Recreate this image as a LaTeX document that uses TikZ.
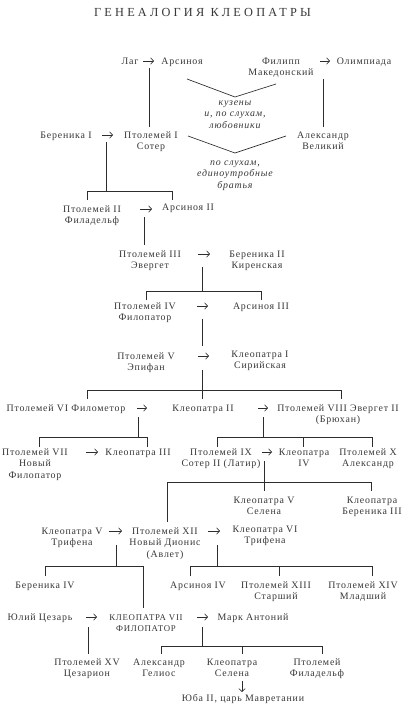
\documentclass[tikz,border=0pt]{standalone}
\usepackage{fontspec}
\setmainfont{Liberation Serif}[LetterSpace=8]
\usetikzlibrary{arrows.meta}
\definecolor{ink}{RGB}{55,55,55}
\definecolor{lnk}{RGB}{45,45,45}
\newcommand\nfs{\fontsize{9.9}{11.8}\selectfont}
\newcommand\nd[5][nm]{\node[#1] (#2) at (#3,#4-4) {\rule{0pt}{7pt}#5};}
\newcommand\myarr[4]{\coordinate (#1a) at (#2,#4); \coordinate (#1b) at (#3,#4); \draw[ar] (#1a) -- (#1b);}
\newcommand\drop[4]{\coordinate (#1a) at (#2,#3); \coordinate (#1b) at (#2,#4); \draw[ln] (#1a) -- (#1b);}
\newcommand\sibs[5]{\coordinate (#1l) at (#2,#5); \coordinate (#1r) at (#3,#5);
  \coordinate (#1p) at (#2,#4); \coordinate (#1q) at (#3,#4);
  \draw[ln] (#1l) -- (#1p) -- (#1q) -- (#1r);}
\begin{document}
\begin{tikzpicture}[x=1pt,y=-1pt,
  nm/.style={align=center,inner sep=0pt,outer sep=0pt,anchor=north,font=\nfs,text=ink},
  nt/.style={nm,font=\nfs\itshape},
  ns/.style={nm,font=\fontsize{8.8}{11.8}\selectfont},
  ln/.style={draw=lnk,line width=0.65pt},
  ar/.style={ln,-{Straight Barb[length=3pt,width=6.5pt]}}]
\fill[white] (0,0) rectangle (409,712);
\useasboundingbox (0,0) rectangle (409,712);
\node[text=ink,inner sep=0pt,font=\fontsize{12.3}{14}\selectfont\addfontfeature{LetterSpace=26}] (title) at (202.5,12.5) {ГЕНЕАЛОГИЯ КЛЕОПАТРЫ};
% people
\nd{lag}{130}{61}{Лаг}
\nd{ars}{182}{61}{Арсиноя}
\nd{fil}{281}{61}{Филипп\\Македонский}
\nd{olim}{364}{61}{Олимпиада}
\nd[nt]{n1}{235}{102}{кузены\\и, по слухам,\\любовники}
\nd{ber1}{66}{135}{Береника I}
\nd{ptolI}{151}{135}{Птолемей I\\Сотер}
\nd{alex}{323}{135}{Александр\\Великий}
\nd[nt]{n2}{235}{162}{по слухам,\\единоутробные\\братья}
\nd{ptolII}{92}{209}{Птолемей II\\Филадельф}
\nd{arsII}{188}{207}{Арсиноя II}
\nd{ptolIII}{150}{254}{Птолемей III\\Эвергет}
\nd{berII}{257}{254}{Береника II\\Киренская}
\nd{ptolIV}{145}{306}{Птолемей IV\\Филопатор}
\nd{arsIII}{261}{306}{Арсиноя III}
\nd{ptolV}{146}{356}{Птолемей V\\Эпифан}
\nd{kleoI}{260}{354}{Клеопатра I\\Сирийская}
\nd{ptolVI}{66}{408}{Птолемей VI Филометор}
\nd{kleoII}{203}{408}{Клеопатра II}
\nd{ptolVIII}{338}{408}{Птолемей VIII Эвергет II\\(Брюхан)}
\nd{ptolVII}{35}{452}{Птолемей VII\\Новый\\Филопатор}
\nd{kleoIII}{138}{452}{Клеопатра III}
\nd{ptolIX}{221}{452}{Птолемей IX\\Сотер II (Латир)}
\nd{kleoIV}{304}{452}{Клеопатра\\IV}
\nd{ptolX}{368}{452}{Птолемей X\\Александр}
\nd{kleoVs}{264}{500}{Клеопатра V\\Селена}
\nd{kbIII}{372}{500}{Клеопатра\\Береника III}
\nd{kleoVt}{72}{531}{Клеопатра V\\Трифена}
\nd{ptolXII}{165}{531}{Птолемей XII\\Новый Дионис\\(Авлет)}
\nd{kleoVI}{265}{529}{Клеопатра VI\\Трифена}
\nd{berIV}{45}{585}{Береника IV}
\nd{arsIV}{198}{585}{Арсиноя IV}
\nd{ptolXIII}{276}{585}{Птолемей XIII\\Старший}
\nd{ptolXIV}{363}{585}{Птолемей XIV\\Младший}
\nd{caesar}{40}{617}{Юлий Цезарь}
\nd[ns]{kleoVII}{146}{617}{КЛЕОПАТРА VII\\ФИЛОПАТОР}
\nd{mark}{253}{617}{Марк Антоний}
\nd{ptolXV}{87}{662}{Птолемей XV\\Цезарион}
\nd{alexH}{159}{662}{Александр\\Гелиос}
\nd{kleoS}{232}{662}{Клеопатра\\Селена}
\nd{ptolF}{317}{662}{Птолемей\\Филадельф}
\nd{juba}{243}{698}{Юба II, царь Мавретании}
% marriage arrows
\myarr{a1}{143}{154}{61}
\myarr{a2}{320}{330}{61}
\myarr{a3}{102}{113}{135}
\myarr{a4}{140}{152}{209}
\myarr{a5}{198}{210}{254}
\myarr{a6}{197}{208}{306}
\myarr{a7}{198}{209}{356}
\myarr{a8}{137}{147}{408}
\myarr{a9}{258}{268}{408}
\myarr{a10}{86}{98}{452}
\myarr{a11}{262}{272}{452}
\myarr{a12}{109}{122}{531}
\myarr{a13}{208}{220}{531}
\myarr{a14}{86}{97}{617}
\myarr{a15}{197}{208}{617}
% V-shaped relations
\coordinate (v1a) at (187,79); \coordinate (v1m) at (235,97); \coordinate (v1b) at (276,84);
\draw[ln] (v1a) -- (v1m) -- (v1b);
\coordinate (v2a) at (188,136); \coordinate (v2m) at (235,153); \coordinate (v2b) at (286,136);
\draw[ln] (v2a) -- (v2m) -- (v2b);
% descent lines
\drop{d0}{149}{68}{127}
\drop{d1}{323}{79}{127}
\drop{d2}{106}{142}{191}\sibs{s2}{87}{172}{191}{200}
\drop{d3}{144}{217}{245}
\drop{d4}{202}{267}{291}\sibs{s4}{146}{261}{291}{300}
\drop{d5}{202}{319}{346}
\drop{d6}{202}{370}{399}\sibs{s6}{87}{341}{390}{399}
\drop{d7}{138}{417}{437}\sibs{s7}{39}{147}{437}{447}
\drop{d8}{263}{417}{437}\sibs{s8}{217}{372}{437}{447}\drop{d8m}{303}{437}{447}
\drop{d9}{264}{461}{491}
\coordinate (s9l) at (167,522); \coordinate (s9p) at (167,482);
\coordinate (s9q) at (371,482); \coordinate (s9r) at (371,491);
\draw[ln] (s9l) -- (s9p) -- (s9q) -- (s9r);
\drop{d10}{116}{545}{566}
\coordinate (s10l) at (45,576); \coordinate (s10p) at (45,566);
\coordinate (s10q) at (143,566); \coordinate (s10r) at (143,608);
\draw[ln] (s10l) -- (s10p) -- (s10q) -- (s10r);
\drop{d11}{217}{545}{566}\sibs{s11}{190}{372}{566}{576}\drop{d11m}{279}{566}{576}
\drop{d12}{88}{627}{654}
\drop{d13}{202}{627}{646}\sibs{s13}{161}{322}{646}{654}\drop{d13m}{242}{646}{654}
\coordinate (dj1) at (242,681); \coordinate (dj2) at (242,692);
\draw[ar] (dj1) -- (dj2);
\end{tikzpicture}
\end{document}
